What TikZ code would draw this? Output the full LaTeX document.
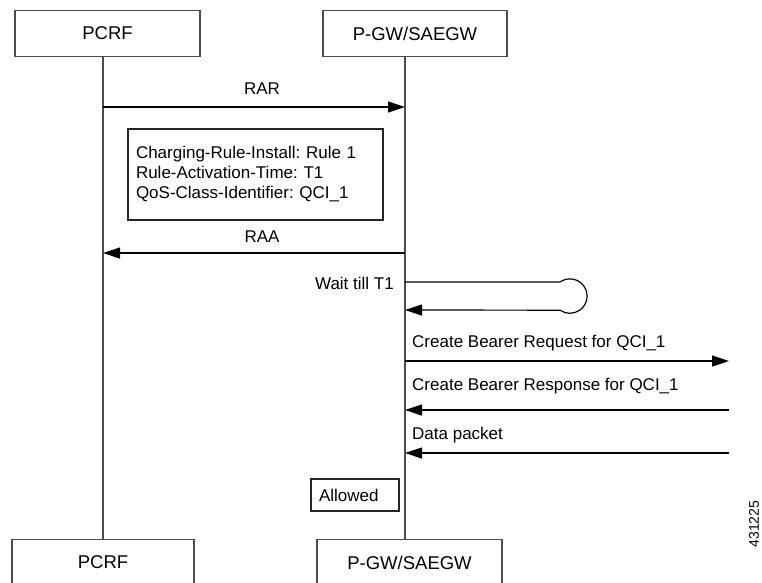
\documentclass[tikz,border=0pt]{standalone}
\usepackage{fontspec}
\setmainfont{Liberation Sans}
\usetikzlibrary{arrows.meta}
\frenchspacing
\begin{document}
\begin{tikzpicture}[x=1pt,y=-1pt,
  entity/.style={draw=gray!60!black,line width=1.2pt,minimum height=46pt,font=\fontsize{18.5}{22}\selectfont},
  life/.style={draw=gray!60!black,line width=1.2pt},
  msg/.style={line width=1.2pt,-{Triangle[length=17pt,width=11pt]}},
  lbl/.style={font=\fontsize{17}{20}\selectfont,inner sep=0pt,text height=12.2pt,text depth=0pt},
  note/.style={draw=gray!30!black,line width=1.2pt,font=\fontsize{17}{20}\selectfont,align=left,inner xsep=8pt}]
\useasboundingbox (0,0) rectangle (762,582);
\clip (0,0) rectangle (762,582);
\node[entity,minimum width=185pt] (pcrf) at (107.5,33.5) {PCRF};
\node[entity,minimum width=184pt] (pgw) at (415,33.5) {P-GW/SAEGW};
\node[entity,minimum width=182pt,anchor=north] (pcrfb) at (103,539) {PCRF};
\node[entity,minimum width=185pt,anchor=north] (pgwb) at (409.5,539) {P-GW/SAEGW};
\coordinate (pcrfl) at (103,0);
\coordinate (pgwl) at (405,0);
\coordinate (peer) at (729,0);
\draw[life] (pcrfl |- pcrf.south) -- (pcrfl |- pcrfb.north);
\draw[life] (pgwl |- pgw.south) -- (pgwl |- pgwb.north);
% RAR / RAA
\node[lbl] (rar) at (262,88) {RAR};
\draw[msg] (pcrfl |- 0,107) -- (pgwl |- 0,107);
\node[note,text width=239pt,minimum height=91pt] (info) at (255.5,174.5) {Charging-Rule-Install: Rule 1\\Rule-Activation-Time: T1\\QoS-Class-Identifier: QCI\_1};
\node[lbl] (raa) at (262,236) {RAA};
\draw[msg] (pgwl |- 0,253) -- (pcrfl |- 0,253);
% wait loop
\node[lbl,anchor=east] (wait) at (394,283) {Wait till T1};
\draw[msg] (pgwl |- 0,282) -- (560,282) arc[start angle=125,end angle=-125,radius=17.2pt] -- (pgwl |- 0,310);
% bearer
\node[lbl,anchor=west] (cbreq) at (412,341) {Create Bearer Request for QCI\_1};
\draw[msg] (pgwl |- 0,361) -- (peer |- 0,361);
\foreach \i/\ya/\yl/\t in {1/410/384/Create Bearer Response for QCI\_1,2/453/433/Data packet}{
	\node[lbl,anchor=west] (in\i) at (412,\yl) {\t};
	\draw[msg] (peer |- 0,\ya) -- (pgwl |- 0,\ya);}
\node[note,text width=72pt,minimum height=32pt] (allowed) at (355,495) {Allowed};
\node[rotate=90,font=\fontsize{14}{17}\selectfont,inner sep=0pt] (fignum) at (754,524) {431225};
\end{tikzpicture}
\end{document}
